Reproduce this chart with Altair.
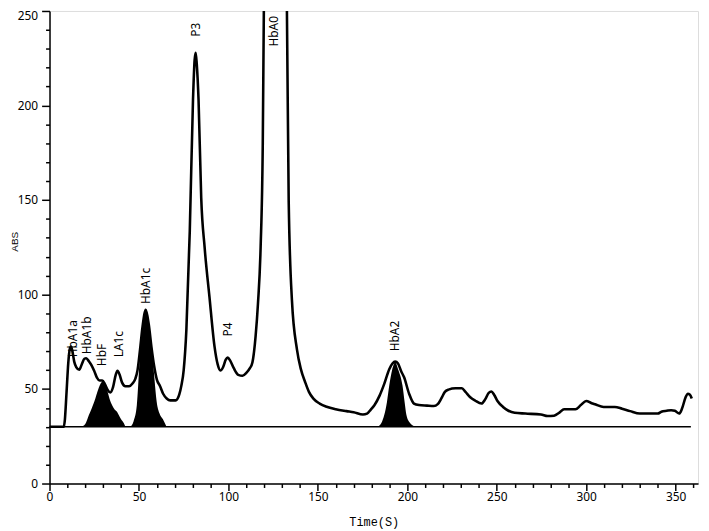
import altair as alt
import pandas as pd

# Main chromatogram trace (time in s, absorbance)
time_s = [0, 8, 8.6, 9.5, 10.5, 11.3, 12, 12.8, 13.8, 15, 16.6, 18, 19.5, 20.5, 22, 23.5, 25, 26.5, 28,
          29.5, 31, 32.5, 34, 35.5, 37, 38, 39.2, 40.5, 42.4, 44.5, 46.5, 48, 49.2, 50.5, 52, 53.8, 55.5,
          57, 58.5, 60, 61.8, 63.5, 65.5, 67.5, 70.5, 72.5, 73.7, 75, 76.5, 78.4, 80.2, 81.1, 81.7, 82.3,
          83.3, 84.8, 86.7, 89.4, 92.2, 94, 95.5, 97, 98.5, 99.6, 101, 103, 105.5, 107.9, 110, 112, 113.4,
          115.2, 116.5, 118, 119.2, 119.8, 121, 124, 126.5, 129, 131.5, 132.7, 133.7, 135.5, 138.3, 140.5,
          142.9, 145, 147.5, 151, 154.9, 160, 166, 170, 175.2, 177.5, 179.5, 181.6, 184.5, 187.1, 189.9,
          191.7, 193.2, 194.8, 196.5, 198.2, 201, 203.7, 206.5, 211, 214.8, 217, 219, 221, 223, 227, 230.5,
          232.5, 235, 238, 241.5, 243.5, 245.5, 247, 248.5, 250.5, 253.5, 256.5, 260, 266, 274.7, 278.4,
          282, 285, 287.6, 294, 297, 300, 303, 305, 309.7, 316, 320, 324.5, 330, 340, 342, 345, 347.5,
          349.5, 352, 353.5, 355.5, 356.7, 358, 359]
abs_v = [30, 30, 34, 48, 64, 71, 72.5, 70, 64.5, 61.5, 60.2, 63, 66, 66.3, 64.7, 62.5, 59.5, 56, 54.5,
         54.5, 52.5, 49.5, 48.2, 51, 57.5, 59.7, 57.5, 53.5, 51.5, 51.5, 53, 55.5, 60, 70, 83, 91.9, 84,
         72, 62, 55, 51.5, 47.5, 45, 44, 44, 47, 51.8, 60, 81.4, 133.6, 203, 224, 227.9, 222,
         203, 151, 124.9, 98.8, 72.7, 63, 59.8, 61.5, 65.5, 66.6, 65, 61, 57.5, 57, 58.5, 61, 64,
         78, 95, 125, 180, 250, 320, 390, 410, 390, 320, 250, 149, 97, 71, 60.5,
         53.6, 48.5, 44.9, 42.3, 40.6, 39.3, 38.3, 37.7, 36.5, 37, 39, 41.4, 46.5, 52.7, 60.5,
         63.5, 64.5, 63.5, 59.5, 56.2, 47.5, 42.3, 41.5, 41.2, 41, 42, 45, 48.5, 49.7, 50.4, 50.4,
         48.5, 45.8, 43.8, 42.3, 44.5, 48, 48.7, 47, 43.5, 40.5, 38.5, 37.4, 37, 36.5, 35.7,
         35.9, 37.5, 39.3, 39.3, 41.5, 43.7, 42.5, 41.9, 40.5, 40.5, 39.6, 38.3, 37, 37, 38, 38.5, 38.8,
         38.5, 37, 39.5, 45.5, 47.5, 47, 45]

# Integrated (filled) peaks
hbf_t = [17.5, 20, 22, 23.5, 25, 27.3, 29.5, 30.8, 32.3, 33.5, 35, 36.5, 37.8, 38.7, 40, 41.5, 42.4]
hbf_v = [30, 31.5, 36.2, 39.5, 43.2, 50, 53.9, 53, 49.2, 45, 41.4, 39, 37.9, 36.2, 34, 32, 30]
hba1c_t = [45.2, 47, 48.8, 49.8, 50.7, 52.3, 53.8, 55.4, 57.1, 58.5, 59.9, 61.5, 63.6, 65.4]
hba1c_v = [30, 33, 41.4, 56, 72.7, 86, 91.9, 86, 72.7, 57, 43.2, 37, 33.6, 30]
hba2_t = [183.4, 185.5, 187.1, 188.6, 189.9, 191.5, 193.2, 195, 197.3, 198.5, 199.5, 201.5, 204.6]
hba2_v = [30, 32, 36.2, 43, 51.8, 60, 64, 60, 51.8, 43, 36.2, 32, 30]

baseline_level = 30
baseline_end = 358.5

# Peak labels
label_text = ["HbA1a", "HbA1b", "HbF", "LA1c", "HbA1c", "P3", "HbA0", "P4", "HbA2"]
label_t = [12.9, 21.2, 29.5, 38.7, 53.7, 81.9, 125.4, 99.6, 193.2]
label_v = [66.8, 68.4, 62.1, 66.8, 95, 236.4, 231.2, 77.8, 70]

main_df = pd.DataFrame({"t": time_s, "v": abs_v})
fill_df = pd.concat([
    pd.DataFrame({"t": hbf_t, "v": hbf_v, "peak": "HbF"}),
    pd.DataFrame({"t": hba1c_t, "v": hba1c_v, "peak": "HbA1c"}),
    pd.DataFrame({"t": hba2_t, "v": hba2_v, "peak": "HbA2"}),
])
fill_df["b"] = baseline_level
base_df = pd.DataFrame({"t": [0], "t2": [baseline_end], "v": [baseline_level]})
lab_df = pd.DataFrame({"t": label_t, "v": label_v, "label": label_text})

x_axis = alt.Axis(
    values=list(range(0, 361, 10)),
    labelExpr="datum.value % 50 === 0 ? datum.label : ''",
    tickSize={"condition": {"test": "datum.value % 50 === 0", "value": 7}, "value": 4},
    tickColor="black", tickWidth=1.5, domainColor="black", domainWidth=1.5,
    labelFont="Noto Sans", labelFontSize=12, labelColor="black", labelPadding=1,
    labelOverlap=False, labelFlush=False, grid=False,
    titleFont="Liberation Mono", titleFontSize=12, titleFontWeight="normal",
    titleColor="black", titlePadding=14,
)
y_axis = alt.Axis(
    values=list(range(0, 251, 10)),
    labelExpr="datum.value % 50 === 0 ? datum.label : ''",
    labelBaseline={"condition": {"test": "datum.value === 250", "value": "top"}, "value": "middle"},
    tickSize={"condition": {"test": "datum.value % 50 === 0", "value": 8}, "value": 4},
    tickColor="black", tickWidth=1.5, domainColor="black", domainWidth=1.5,
    labelFont="Noto Sans", labelFontSize=12, labelColor="black", labelPadding=4,
    labelOverlap=False, labelFlush=False, grid=False,
    titleFont="Liberation Sans", titleFontSize=10, titleFontWeight="normal",
    titleColor="black", titleAngle=270, titleX=-35, titleY=233,
    titleAlign="center", titleBaseline="middle",
)

x_enc = alt.X("t:Q", scale=alt.Scale(domain=[0, 362.5], nice=False, zero=False), axis=x_axis, title="Time(S)")
y_enc = alt.Y("v:Q", scale=alt.Scale(domain=[0, 250], nice=False), axis=y_axis, title="ABS")

fills = alt.Chart(fill_df).mark_area(color="black", opacity=1, interpolate="monotone").encode(
    x=x_enc, y=y_enc, y2="b:Q", detail="peak:N"
)
base = alt.Chart(base_df).mark_rule(color="black", strokeWidth=1.5).encode(
    x=x_enc, x2="t2:Q", y=y_enc
)
line = alt.Chart(main_df).mark_line(color="black", strokeWidth=2.6, interpolate="monotone", clip=True).encode(
    x=x_enc, y=y_enc
)
labels = alt.Chart(lab_df).mark_text(
    angle=270, align="left", baseline="middle", font="Noto Sans", fontSize=12, color="black"
).encode(x=x_enc, y=y_enc, text="label:N")

chart = alt.layer(fills, base, line, labels).properties(
    width=656, height=478,
    autosize=alt.AutoSizeParams(type="none"),
    padding={"left": 42, "top": 0, "right": 3, "bottom": 44},
).configure_view(stroke="black", strokeWidth=1).configure(background="white")

chart.save("out.html", embed_options={"renderer": "svg", "actions": False})
